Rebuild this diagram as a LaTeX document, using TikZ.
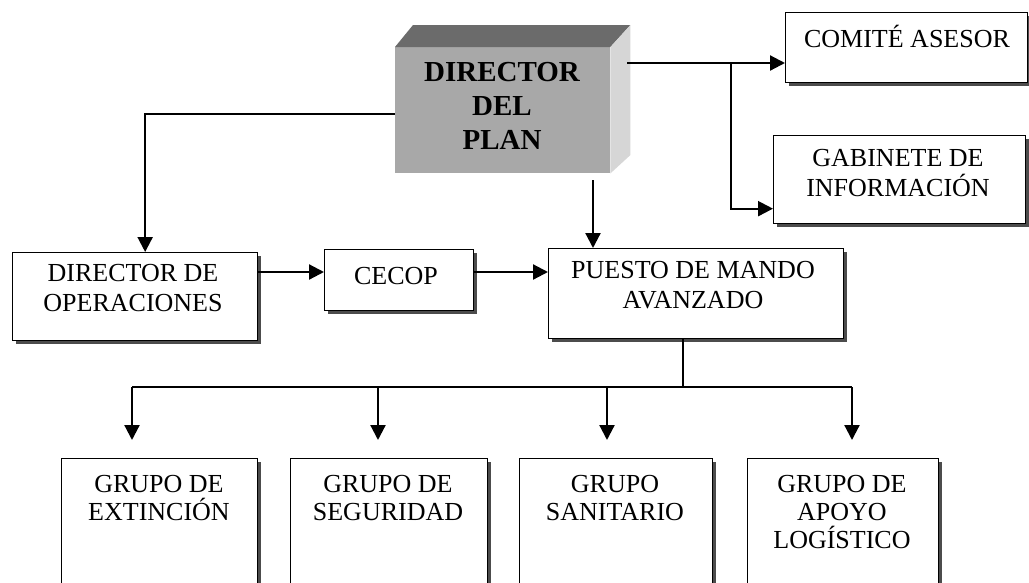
\documentclass[tikz,border=0pt]{standalone}
\usepackage{fontspec}
\setmainfont{Liberation Serif}
\usetikzlibrary{arrows.meta,shadows,calc}
\definecolor{frontc}{gray}{0.66}
\definecolor{topc}{gray}{0.42}
\definecolor{sidec}{gray}{0.84}
\begin{document}
\begin{tikzpicture}[x=1pt,y=-1pt,
  box/.style={draw=black, line width=1.3pt, fill=white, rectangle, inner sep=0pt,
    anchor=north west,
    drop shadow={shadow xshift=3.5pt, shadow yshift=-3.5pt, fill=black!70, opacity=1}},
  lbl/.style={font=\fontsize{26}{30}\selectfont, align=center, inner sep=0pt,
    anchor=north, yshift=21pt, execute at begin node=\strut},
  slbl/.style={font=\fontsize{26}{30}\selectfont, inner sep=0pt, anchor=base},
  blbl/.style={font=\bfseries\fontsize{29}{34}\selectfont, align=center, inner sep=0pt,
    anchor=north, yshift=23.8pt, execute at begin node=\strut},
  wire/.style={line width=2.2pt},
  conn/.style={line width=2.2pt, -{Triangle[length=15pt,width=15pt]}}]
\useasboundingbox (0,0) rectangle (1029,582);
\fill[white] (0,0) rectangle (1029,582);
\clip (0,0) rectangle (1029,582);

% --- Director del plan (3D block)
\node[rectangle, fill=frontc, inner sep=0pt, minimum width=215pt, minimum height=126pt,
  anchor=north west] (dp) at (395,47) {};
\fill[topc] (dp.north west) -- ++(18,-22) -- ([shift={(20,-22)}]dp.north east) -- (dp.north east) -- cycle;
\fill[sidec] (dp.north east) -- ++(20,-22) -- ++(0,130) -- (dp.south east) -- cycle;
\node[blbl] (dpt) at (502,86) {DIRECTOR\\DEL\\PLAN};

% --- boxes
\node[box, minimum width=242pt, minimum height=70pt] (com) at (785,12) {};
\node[slbl] (comt) at (907,47) {COMITÉ ASESOR};

\node[box, minimum width=252pt, minimum height=88pt] (gab) at (773,135) {};
\node[lbl] (gabt) at (898,170) {GABINETE DE\\INFORMACIÓN};

\node[box, minimum width=245pt, minimum height=88pt] (do) at (12,252) {};
\node[lbl] (dot) at (133,285) {DIRECTOR DE\\OPERACIONES};

\node[box, minimum width=149pt, minimum height=61pt] (cecop) at (324,249) {};
\node[slbl] (cecopt) at (396,284) {CECOP};

\node[box, minimum width=295pt, minimum height=90pt] (pma) at (548,248) {};
\node[lbl] (pmat) at (693,282) {PUESTO DE MANDO\\AVANZADO};

\node[box, minimum width=196pt, minimum height=135pt] (ge) at (61,458) {};
\node[lbl, font=\fontsize{26}{28}\selectfont] (get) at (159,496) {GRUPO DE\\EXTINCIÓN};

\node[box, minimum width=197pt, minimum height=135pt] (gs) at (290,458) {};
\node[lbl, font=\fontsize{26}{28}\selectfont] (gst) at (388,496) {GRUPO DE\\SEGURIDAD};

\node[box, minimum width=193pt, minimum height=135pt] (gsan) at (519,458) {};
\node[lbl, font=\fontsize{26}{28}\selectfont] (gsant) at (615,496) {GRUPO\\SANITARIO};

\node[box, minimum width=191pt, minimum height=135pt] (ga) at (747,458) {};
\node[lbl, font=\fontsize{26}{28}\selectfont] (gat) at (842,496) {GRUPO DE\\APOYO\\LOGÍSTICO};

% --- connectors
\coordinate (dpR) at (627,63);
\coordinate (br) at (731,63);
\draw[conn] (dpR) -- (dpR -| com.west);
\draw[conn] (br) |- ([yshift=-29pt]gab.west);

\draw[conn] ([yshift=-4pt]dp.west) -| ([xshift=10pt]do.north);

\coordinate (dpB) at (593,180);
\draw[conn] (dpB) -- (dpB |- pma.north);

\coordinate (r2) at (0,272);
\draw[conn] (do.east |- r2) -- (cecop.west |- r2);
\draw[conn] (cecop.east |- r2) -- (pma.west |- r2);

\coordinate (hub) at (683,387);
\coordinate (t1) at (132,440);
\coordinate (t2) at (378,440);
\coordinate (t3) at (607,440);
\coordinate (t4) at (852,440);
\draw[wire] (pma.south -| hub) -- (hub);
\draw[wire] (t1 |- hub) -- (t4 |- hub);
\draw[conn] (t1 |- hub) -- (t1);
\draw[conn] (t2 |- hub) -- (t2);
\draw[conn] (t3 |- hub) -- (t3);
\draw[conn] (t4 |- hub) -- (t4);
\end{tikzpicture}
\end{document}
